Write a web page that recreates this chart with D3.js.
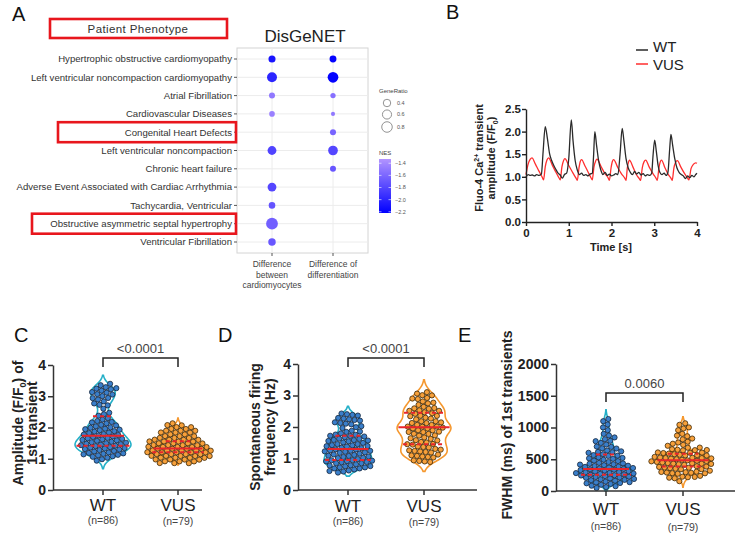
<!DOCTYPE html>
<html>
<head>
<meta charset="utf-8">
<style>
  body { margin: 0; background: #fff; }
  svg { font-family: "Liberation Sans", Arial, sans-serif; }
</style>
</head>
<body>
<script src="https://cdn.jsdelivr.net/npm/d3@7"></script>
<script>
// ---------- Panel A data (DisGeNET enrichment)
const phenotypes = [
  "Hypertrophic obstructive cardiomyopathy",
  "Left ventricular noncompaction cardiomyopathy",
  "Atrial Fibrillation",
  "Cardiovascular Diseases",
  "Congenital Heart Defects",
  "Left ventricular noncompaction",
  "Chronic heart failure",
  "Adverse Event Associated with Cardiac Arrhythmia",
  "Tachycardia, Ventricular",
  "Obstructive asymmetric septal hypertrophy",
  "Ventricular Fibrillation"
];
const comparisons = ["Difference between cardiomyocytes", "Difference of differentiation"];
const comparisonLines = [["Difference", "between", "cardiomyocytes"], ["Difference of", "differentiation"]];
const ratioBetween = [0.36, 0.71, 0.26, 0.23, null, 0.56, null, 0.56, 0.31, 1.0, 0.40];
const nesBetween = [-2.1, -2.0, -1.5, -1.45, null, -1.82, null, -1.8, -1.72, -1.65, -1.7];
const ratioDiff = [0.34, 0.82, 0.20, 0.12, 0.26, 0.68, 0.26, null, null, null, null];
const nesDiff = [-2.2, -2.2, -1.55, -1.5, -1.62, -1.8, -1.7, null, null, null, null];
const highlighted = ["Congenital Heart Defects", "Obstructive asymmetric septal hypertrophy"];
const ratioLegend = [0.4, 0.6, 0.8];
const nesTicks = [-1.4, -1.6, -1.8, -2.0, -2.2];

// ---------- Panel B data (Ca2+ traces)
const wtTime = [0.00,0.05,0.10,0.15,0.20,0.25,0.30,0.36,0.40,0.45,0.50,0.55,0.60,0.65,0.70,0.75,0.80,0.85,0.90,0.95,
  1.00,1.06,1.10,1.15,1.20,1.25,1.30,1.35,1.40,1.45,1.50,1.55,1.58,1.61,1.65,1.70,1.75,1.80,1.85,1.90,
  1.95,2.00,2.05,2.10,2.15,2.20,2.25,2.29,2.34,2.39,2.44,2.49,2.54,2.59,2.64,2.69,2.74,2.79,2.84,2.89,
  2.94,2.97,3.01,3.05,3.09,3.13,3.18,3.23,3.28,3.32,3.36,3.39,3.43,3.48,3.53,3.58,3.63,3.68,3.73,3.78,
  3.83,3.88,3.93,3.97,4.00];
const wtAmp = [1.00,1.05,1.03,1.04,1.02,1.05,1.03,1.06,1.55,2.11,1.85,1.52,1.36,1.25,1.16,1.08,1.04,0.97,1.05,1.08,
  1.40,2.26,1.80,1.36,1.15,1.05,1.08,1.03,1.05,1.02,1.06,1.08,1.45,2.00,1.70,1.35,1.15,1.05,1.10,1.03,
  1.06,1.02,1.04,1.07,1.05,1.50,2.07,1.80,1.40,1.20,1.10,1.05,1.12,1.06,1.10,1.04,1.07,1.02,1.05,1.03,
  1.08,1.45,1.81,1.55,1.25,1.10,1.05,1.08,1.03,1.10,1.60,1.94,1.70,1.40,1.20,1.10,1.05,1.02,0.96,1.02,
  0.98,1.03,1.00,1.05,1.08];
const vusTime = [0.00,0.05,0.10,0.14,0.22,0.30,0.38,0.41,0.45,0.49,0.53,0.61,0.70,0.77,0.80,0.84,0.88,0.91,1.00,1.10,
  1.17,1.20,1.24,1.27,1.30,1.38,1.46,1.52,1.55,1.59,1.63,1.66,1.75,1.84,1.92,1.95,1.99,2.02,2.05,2.14,
  2.23,2.31,2.34,2.37,2.40,2.42,2.50,2.58,2.65,2.68,2.72,2.76,2.80,2.88,2.97,3.04,3.07,3.11,3.14,3.17,
  3.25,3.33,3.39,3.42,3.46,3.50,3.54,3.62,3.71,3.78,3.81,3.86,3.92,3.97,4.00];
const vusAmp = [1.05,1.28,1.39,1.42,1.28,1.13,0.99,0.93,1.22,1.37,1.42,1.27,1.10,0.98,0.93,1.22,1.36,1.40,1.25,1.08,
  0.97,0.92,1.20,1.34,1.38,1.24,1.09,0.98,0.93,1.22,1.35,1.39,1.24,1.08,0.98,0.92,1.20,1.34,1.38,1.22,
  1.07,0.97,0.92,1.20,1.33,1.37,1.22,1.05,0.96,0.92,1.20,1.33,1.37,1.22,1.07,0.97,0.92,1.20,1.33,1.37,
  1.20,1.05,0.97,0.92,1.20,1.32,1.36,1.22,1.07,0.97,0.93,1.18,1.28,1.31,1.30];
const traceTicksY = [0, 0.5, 1.0, 1.5, 2.0, 2.5];

// ---------- Panels C-E data (per-cell values)
const ampWT = [1.02,1.06,1.09,1.12,1.14,1.17,1.19,1.21,1.23,1.25,
  1.27,1.28,1.30,1.32,1.34,1.35,1.36,1.38,1.40,1.41,
  1.43,1.44,1.46,1.48,1.49,1.51,1.53,1.55,1.56,1.58,
  1.60,1.62,1.64,1.66,1.68,1.70,1.72,1.73,1.75,1.78,
  1.80,1.82,1.85,1.87,1.89,1.92,1.94,1.97,2.00,2.02,
  2.05,2.08,2.10,2.12,2.15,2.18,2.21,2.25,2.30,2.38,
  2.46,2.58,2.70,2.76,2.82,2.86,2.90,2.95,2.98,3.02,
  3.05,3.08,3.10,3.14,3.17,3.20,3.22,3.25,3.28,3.30,
  3.33,1.45,1.52,1.37,1.62,1.31];
const ampVUS = [1.00,1.03,1.05,1.07,1.09,1.10,1.11,1.12,1.13,1.14,
  1.15,1.16,1.17,1.18,1.18,1.19,1.20,1.20,1.21,1.22,
  1.22,1.23,1.24,1.25,1.25,1.26,1.27,1.28,1.28,1.29,
  1.30,1.30,1.31,1.32,1.33,1.34,1.35,1.36,1.37,1.38,
  1.39,1.40,1.41,1.42,1.43,1.44,1.45,1.46,1.48,1.49,
  1.50,1.52,1.54,1.55,1.57,1.59,1.61,1.63,1.65,1.67,
  1.69,1.72,1.75,1.78,1.80,1.83,1.86,1.89,1.92,1.95,
  1.98,2.02,2.06,2.10,1.16,1.24,1.33,1.21,1.27];
const freqWT = [0.74,0.75,0.75,0.76,0.74,0.75,0.76,0.75,0.74,0.75,
  0.85,0.86,0.84,0.85,0.86,0.85,0.84,
  0.95,0.94,0.96,0.95,0.95,0.94,0.96,
  1.05,1.04,1.06,1.05,1.05,1.06,
  1.15,1.14,1.16,1.15,1.15,1.14,
  1.25,1.24,1.26,1.25,1.25,1.24,1.26,
  1.35,1.36,1.34,1.35,1.35,
  1.45,1.44,1.46,1.45,1.45,1.44,
  1.55,1.56,1.54,1.55,1.55,1.56,
  1.65,1.64,1.66,1.65,
  1.75,1.76,1.74,
  1.85,1.86,1.84,
  2.00,2.01,1.99,
  2.15,2.14,2.16,2.15,
  2.25,2.24,2.26,2.25,2.25,2.24,
  2.35,2.36,2.34];
const freqVUS = [1.00,1.01,0.99,1.00,
  1.10,1.11,1.09,1.10,1.10,1.11,
  1.20,1.21,1.19,1.20,1.20,
  1.30,1.31,1.29,
  1.45,1.46,1.44,1.45,1.45,1.46,
  1.55,1.56,1.54,1.55,
  1.70,1.71,1.69,
  1.80,1.81,1.79,
  1.90,1.91,1.89,1.90,1.90,
  2.00,2.01,1.99,2.00,2.00,2.01,1.99,2.00,2.00,
  2.10,2.11,2.09,2.10,
  2.25,2.26,2.24,
  2.40,2.41,2.39,2.40,
  2.50,2.51,2.49,2.50,2.50,2.51,
  2.60,2.61,2.59,2.60,
  2.75,2.76,2.74,
  2.90,2.91,2.89,
  3.00,3.01,2.99,
  3.10];
const fwhmWT = [120,140,150,160,170,180,185,190,200,205,
  210,215,220,225,230,235,240,245,250,255,
  260,265,270,275,280,285,290,295,300,305,
  310,315,320,325,330,335,340,345,350,355,
  360,365,370,380,390,400,410,420,430,440,
  450,460,470,480,500,520,540,560,580,600,
  620,640,660,680,700,720,740,760,780,800,
  830,860,900,950,1000,1050,1100,1130,310,330,
  250,280,200,600,680,450];
const fwhmVUS = [180,210,240,260,280,300,310,320,330,340,
  350,355,360,370,380,385,390,400,405,410,
  420,425,430,440,445,450,455,460,465,470,
  475,480,485,490,495,500,505,510,515,520,
  525,530,535,540,545,550,555,560,570,580,
  590,600,620,640,660,700,720,740,760,780,
  800,820,850,880,900,950,980,1000,1030,1050,
  350,380,420,460,500,540,320,290,480];
const groups = ["WT", "VUS"];
const groupN = ["(n=86)", "(n=79)"];

// ---------- SVG
const svg = d3.select("body").append("svg")
  .attr("width", 744)
  .attr("height", 547);

// panel letters
[["A", 12, 21], ["B", 446, 19], ["C", 14, 342], ["D", 218, 342], ["E", 458, 342]].forEach(([t, x, y]) => {
  svg.append("text").attr("x", x).attr("y", y).attr("font-size", 20).attr("fill", "#111").text(t);
});

// ================= Panel A =================
const yA = d3.scalePoint().domain(phenotypes).range([59, 242]);
const xA = d3.scalePoint().domain(comparisons).range([272, 333]);
const rA = d3.scaleSqrt().domain([0, 1]).range([0, 5.9]);
const cA = d3.scaleLinear().domain([-2.22, -1.33]).range(["#0000ff", "#b294ff"]);

const gA = svg.append("g");
gA.append("rect").attr("x", 237).attr("y", 48).attr("width", 131).attr("height", 205)
  .attr("fill", "#fff").attr("stroke", "#d4d4d4");
gA.selectAll(null).data(phenotypes).join("line")
  .attr("x1", 237).attr("x2", 368).attr("y1", d => yA(d)).attr("y2", d => yA(d))
  .attr("stroke", "#ececec");
gA.selectAll(null).data(comparisons).join("line")
  .attr("y1", 48).attr("y2", 253).attr("x1", d => xA(d)).attr("x2", d => xA(d))
  .attr("stroke", "#ececec");
// y ticks + labels
gA.selectAll(null).data(phenotypes).join("line")
  .attr("x1", 234).attr("x2", 237).attr("y1", d => yA(d)).attr("y2", d => yA(d))
  .attr("stroke", "#555");
gA.selectAll(null).data(phenotypes).join("text")
  .attr("x", 232).attr("y", d => yA(d)).attr("dy", "0.35em")
  .attr("text-anchor", "end").attr("font-size", 9.6).attr("fill", "#333")
  .text(d => d);
// x ticks + labels
gA.selectAll(null).data(comparisons).join("line")
  .attr("x1", d => xA(d)).attr("x2", d => xA(d)).attr("y1", 253).attr("y2", 256)
  .attr("stroke", "#555");
comparisons.forEach((c, i) => {
  comparisonLines[i].forEach((ln, j) => {
    gA.append("text").attr("x", xA(c)).attr("y", 267 + j * 10.5)
      .attr("text-anchor", "middle").attr("font-size", 8.5).attr("fill", "#444").text(ln);
  });
});
// dots
const dotsA = [];
phenotypes.forEach((p, i) => {
  if (ratioBetween[i] != null) dotsA.push({ p, c: comparisons[0], r: ratioBetween[i], nes: nesBetween[i] });
  if (ratioDiff[i] != null) dotsA.push({ p, c: comparisons[1], r: ratioDiff[i], nes: nesDiff[i] });
});
gA.selectAll(null).data(dotsA).join("circle")
  .attr("cx", d => xA(d.c)).attr("cy", d => yA(d.p)).attr("r", d => rA(d.r))
  .attr("fill", d => cA(d.nes));
// title
gA.append("text").attr("x", 305).attr("y", 42).attr("text-anchor", "middle")
  .attr("font-size", 17).attr("fill", "#222").text("DisGeNET");
// patient phenotype box + highlights
gA.append("rect").attr("x", 50).attr("y", 19).attr("width", 177).attr("height", 19)
  .attr("fill", "none").attr("stroke", "#e8161d").attr("stroke-width", 2.6);
gA.append("text").attr("x", 138).attr("y", 33).attr("text-anchor", "middle")
  .attr("font-size", 11.5).attr("fill", "#333").attr("letter-spacing", 0.4).text("Patient Phenotype");
const boxes = { "Congenital Heart Defects": 58, "Obstructive asymmetric septal hypertrophy": 32 };
highlighted.forEach(h => {
  gA.append("rect").attr("x", boxes[h]).attr("y", yA(h) - 10).attr("width", 236 - boxes[h]).attr("height", 20)
    .attr("fill", "none").attr("stroke", "#e8161d").attr("stroke-width", 2.6);
});
// size legend
gA.append("text").attr("x", 379).attr("y", 93).attr("font-size", 6).attr("fill", "#444").text("GeneRatio");
const legY = [103, 114.5, 127];
ratioLegend.forEach((v, i) => {
  gA.append("circle").attr("cx", 387).attr("cy", legY[i]).attr("r", rA(v))
    .attr("fill", "none").attr("stroke", "#777").attr("stroke-width", 0.8);
  gA.append("text").attr("x", 397).attr("y", legY[i]).attr("dy", "0.35em")
    .attr("font-size", 5.5).attr("fill", "#555").text(v.toFixed(1));
});
// colour bar
gA.append("text").attr("x", 379).attr("y", 155).attr("font-size", 6).attr("fill", "#444").text("NES");
const grad = svg.append("defs").append("linearGradient").attr("id", "nesGrad")
  .attr("x1", 0).attr("x2", 0).attr("y1", 0).attr("y2", 1);
grad.append("stop").attr("offset", "0%").attr("stop-color", cA(-1.33));
grad.append("stop").attr("offset", "100%").attr("stop-color", cA(-2.22));
const yBar = d3.scaleLinear().domain([-2.22, -1.33]).range([213, 159]);
gA.append("rect").attr("x", 379).attr("y", 159).attr("width", 12).attr("height", 54).attr("fill", "url(#nesGrad)");
nesTicks.forEach(t => {
  gA.append("line").attr("x1", 379).attr("x2", 381.5).attr("y1", yBar(t)).attr("y2", yBar(t)).attr("stroke", "#fff").attr("stroke-width", 0.6);
  gA.append("line").attr("x1", 388.5).attr("x2", 391).attr("y1", yBar(t)).attr("y2", yBar(t)).attr("stroke", "#fff").attr("stroke-width", 0.6);
  gA.append("text").attr("x", 395).attr("y", yBar(t)).attr("dy", "0.35em")
    .attr("font-size", 5.5).attr("fill", "#555").text(d3.format(".1f")(t).replace("-", "\u2212"));
});

// ================= Panel B =================
const xB = d3.scaleLinear().domain([0, 4]).range([526, 697]);
const yB = d3.scaleLinear().domain([0, 2.5]).range([222, 109]);
const gB = svg.append("g");
const lineB = d3.line().x(d => xB(d[0])).y(d => yB(d[1])).curve(d3.curveMonotoneX);
gB.append("path").datum(d3.zip(vusTime, vusAmp)).attr("d", lineB)
  .attr("fill", "none").attr("stroke", "#ff2e2e").attr("stroke-width", 1.3);
gB.append("path").datum(d3.zip(wtTime, wtAmp)).attr("d", lineB)
  .attr("fill", "none").attr("stroke", "#2a2a2a").attr("stroke-width", 1.3);

const axB = gB.append("g").attr("transform", "translate(0,222)")
  .call(d3.axisBottom(xB).ticks(4).tickSize(4).tickSizeOuter(0));
const ayB = gB.append("g").attr("transform", "translate(526,0)")
  .call(d3.axisLeft(yB).tickValues(traceTicksY).tickFormat(d3.format(".1f")).tickSize(4).tickPadding(1).tickSizeOuter(0));
[axB, ayB].forEach(a => {
  a.attr("font-family", null).attr("font-size", 11.5).attr("font-weight", "bold");
  a.selectAll("path,line").attr("stroke", "#222").attr("stroke-width", 1.4);
  a.selectAll("text").attr("fill", "#222");
});
gB.append("text").attr("x", 611).attr("y", 251).attr("text-anchor", "middle")
  .attr("font-size", 11).attr("font-weight", "bold").attr("fill", "#222").text("Time [s]");
const lb1 = gB.append("text").attr("transform", "translate(483,158) rotate(-90)")
  .attr("text-anchor", "middle").attr("font-size", 11).attr("font-weight", "bold").attr("fill", "#222");
lb1.append("tspan").text("Fluo-4 Ca");
lb1.append("tspan").attr("font-size", 7).attr("dy", -4).text("2+");
lb1.append("tspan").attr("dy", 4).text(" transient");
const lb2 = gB.append("text").attr("transform", "translate(495,158) rotate(-90)")
  .attr("text-anchor", "middle").attr("font-size", 11).attr("font-weight", "bold").attr("fill", "#222");
lb2.append("tspan").text("amplitude (F/F");
lb2.append("tspan").attr("font-size", 7).attr("dy", 3).text("0");
lb2.append("tspan").attr("dy", -3).text(")");
// legend
[["WT", "#2a2a2a", 50, 52], ["VUS", "#ff2e2e", 64, 70]].forEach(([t, col, ly, ty]) => {
  gB.append("line").attr("x1", 636).attr("x2", 648).attr("y1", ly).attr("y2", ly)
    .attr("stroke", col).attr("stroke-width", 1.5);
  gB.append("text").attr("x", 653).attr("y", ty).attr("font-size", 15).attr("fill", "#222").text(t);
});

// ================= Panels C-E =================
function swarm(values, y, cx) {
  const nodes = values.map((v, i) => ({ v, x: cx + ((i % 9) - 4) * 1.2, y: y(v) }));
  d3.forceSimulation(nodes)
    .force("x", d3.forceX(cx).strength(0.065))
    .force("y", d3.forceY(d => y(d.v)).strength(0.65))
    .force("collide", d3.forceCollide(2.75).iterations(3))
    .stop()
    .tick(300);
  return nodes;
}

function density(values, bw) {
  return t => d3.mean(values, v => Math.exp(-0.5 * ((t - v) / bw) ** 2));
}

const panels = [
  { wt: ampWT, vus: ampVUS, max: 4, ticks: [0, 1, 2, 3, 4], x0: 53, x1: 202, yTop: 365, yBot: 490,
    cx: [103, 178], bw: [0.17, 0.1], half: [28, 28], p: "<0.0001", brY: 358, grpY: [511, 524],
    label: [["Amplitude (F/F", "0", ") of"], ["1st transient"]], labX: [23, 37], labY: 423 },
  { wt: freqWT, vus: freqVUS, max: 4, ticks: [0, 1, 2, 3, 4], x0: 298, x1: 477, yTop: 364, yBot: 490,
    cx: [348, 424], bw: [0.15, 0.2], half: [24, 27], p: "<0.0001", brY: 358, grpY: [512, 525],
    label: [["Spontaneous firing"], ["frequency (Hz)"]], labX: [260, 275], labY: 427 },
  { wt: fwhmWT, vus: fwhmVUS, max: 2000, ticks: [0, 500, 1000, 1500, 2000], x0: 556, x1: 735, yTop: 364, yBot: 491,
    cx: [606, 683], bw: [75, 60], half: [27, 27], p: "0.0060", brY: 393, grpY: [515, 530],
    label: [["FWHM (ms) of 1st transients"]], labX: [512], labY: 425 }
];
const violinCol = ["#25b0c8", "#f5982f"];
const dotFill = ["#3a7fcb", "#f7a03a"];
const dotStroke = ["#16263a", "#3b2708"];

panels.forEach(P => {
  const g = svg.append("g");
  const y = d3.scaleLinear().domain([0, P.max]).range([P.yBot, P.yTop]);
  [P.wt, P.vus].forEach((vals, k) => {
    const cx = P.cx[k];
    const bw = P.bw[k];
    const f = density(vals, bw);
    const lo = Math.max(0, d3.min(vals) - 2 * bw), hi = d3.max(vals) + 2 * bw;
    const pts = d3.range(0, 61).map(i => lo + (hi - lo) * i / 60);
    const dens = pts.map(t => [t, f(t)]);
    const w = d3.scaleLinear().domain([0, d3.max(dens, d => d[1])]).range([0, P.half[k]]);
    const area = d3.area().y(d => y(d[0])).x0(d => cx - w(d[1])).x1(d => cx + w(d[1])).curve(d3.curveBasis);
    g.append("path").datum(dens).attr("d", area)
      .attr("fill", "#fff").attr("stroke", violinCol[k]).attr("stroke-width", 1.6);
    const nodes = swarm(vals, y, cx);
    g.selectAll(null).data(nodes).join("circle")
      .attr("cx", d => d.x).attr("cy", d => d.y).attr("r", 2.6)
      .attr("fill", dotFill[k]).attr("stroke", dotStroke[k]).attr("stroke-width", 0.8);
    const sorted = vals.slice().sort(d3.ascending);
    [[0.25, "4,3"], [0.5, null], [0.75, "4,3"]].forEach(([q, dash]) => {
      const v = d3.quantileSorted(sorted, q);
      const hw = Math.max(10, w(f(v)) * 0.95);
      g.append("line").attr("x1", cx - hw).attr("x2", cx + hw).attr("y1", y(v)).attr("y2", y(v))
        .attr("stroke", "#e8262b").attr("stroke-width", 2).attr("stroke-dasharray", dash);
    });
    // group labels
    g.append("text").attr("x", cx).attr("y", P.grpY[0]).attr("text-anchor", "middle")
      .attr("font-size", 17).attr("fill", "#222").text(groups[k]);
    g.append("text").attr("x", cx).attr("y", P.grpY[1] + (k ? 1 : 0)).attr("text-anchor", "middle")
      .attr("font-size", 10.5).attr("fill", "#444").text(groupN[k]);
  });
  // y axis
  const ay = g.append("g").attr("transform", `translate(${P.x0},0)`)
    .call(d3.axisLeft(y).tickValues(P.ticks).tickFormat(d3.format("d")).tickSize(5).tickPadding(2).tickSizeOuter(0));
  ay.attr("font-family", null).attr("font-size", 14).attr("font-weight", "bold");
  ay.selectAll("path,line").attr("stroke", "#333").attr("stroke-width", 1.5);
  ay.selectAll("text").attr("fill", "#222");
  // x axis
  g.append("line").attr("x1", P.x0).attr("x2", P.x1).attr("y1", P.yBot).attr("y2", P.yBot)
    .attr("stroke", "#333").attr("stroke-width", 1.5);
  g.selectAll(null).data(P.cx).join("line")
    .attr("x1", d => d).attr("x2", d => d).attr("y1", P.yBot).attr("y2", P.yBot + 5)
    .attr("stroke", "#333").attr("stroke-width", 1.5);
  // significance bracket
  g.append("path")
    .attr("d", `M${P.cx[0]},${P.brY + 9}V${P.brY}H${P.cx[1]}V${P.brY + 9}`)
    .attr("fill", "none").attr("stroke", "#222").attr("stroke-width", 1.5);
  g.append("text").attr("x", (P.cx[0] + P.cx[1]) / 2).attr("y", P.brY - 5).attr("text-anchor", "middle")
    .attr("font-size", 13).attr("fill", "#444").text(P.p);
  // y label
  P.label.forEach((parts, i) => {
    const t = g.append("text").attr("transform", `translate(${P.labX[i]},${P.labY}) rotate(-90)`)
      .attr("text-anchor", "middle").attr("font-size", 14).attr("font-weight", "bold").attr("fill", "#222");
    if (parts.length === 1) {
      t.text(parts[0]);
    } else {
      t.append("tspan").text(parts[0]);
      t.append("tspan").attr("font-size", 9).attr("dy", 3).text(parts[1]);
      t.append("tspan").attr("dy", -3).text(parts[2]);
    }
  });
});
</script>
</body>
</html>
